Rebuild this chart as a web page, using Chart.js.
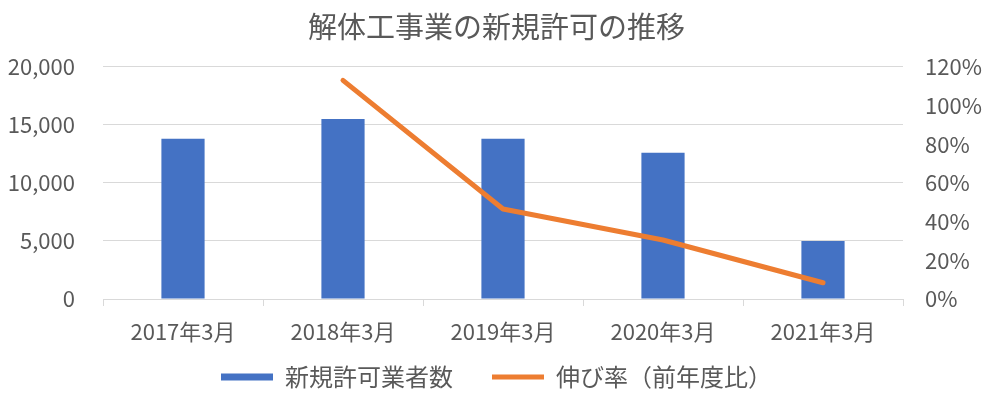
<!DOCTYPE html>
<html>
<head>
<meta charset="utf-8">
<script src="https://cdn.jsdelivr.net/npm/chart.js@4"></script>
<style>
  html, body { margin: 0; padding: 0; background: #fff; }
  #wrap { width: 985px; height: 395px; }
</style>
</head>
<body>
<div id="wrap"><canvas id="myChart"></canvas></div>
<script>
const categories = ['2017年3月', '2018年3月', '2019年3月', '2020年3月', '2021年3月'];
const newPermits = [13800, 15500, 13800, 12600, 5000];
const growthRate = [null, 113, 46.5, 30.5, 8.4];

const FONT = '"Noto Sans CJK JP", "Noto Sans", sans-serif';
const TEXT = '#595959';
const GRID = '#D9D9D9';

// legend sits closer to the axis labels than Chart.js would put it
const legendShift = {
    id: 'legendShift',
    beforeInit(chart) {
        const fit = chart.legend.fit;
        chart.legend.fit = function () {
            fit.call(this);
            this.height = 50;
        };
    },
    afterLayout(chart) {
        chart.legend.top -= 19;
    }
};

const ctx = document.getElementById('myChart');

const chart = new Chart(ctx, {
    data: {
        labels: categories,
        datasets: [
            {
                type: 'line',
                label: '伸び率（前年度比）',
                data: growthRate,
                yAxisID: 'y2',
                borderColor: '#ED7D31',
                backgroundColor: '#ED7D31',
                borderWidth: 5,
                pointRadius: 0,
                borderCapStyle: 'round',
                borderJoinStyle: 'round',
                order: 0
            },
            {
                type: 'bar',
                label: '新規許可業者数',
                data: newPermits,
                yAxisID: 'y',
                backgroundColor: '#4472C4',
                borderWidth: 0,
                barPercentage: 1,
                categoryPercentage: 0.27,
                order: 1
            }
        ]
    },
    plugins: [legendShift],
    options: {
        responsive: true,
        maintainAspectRatio: false,
        animation: false,
        layout: { padding: { left: 8, right: 0, top: 0, bottom: 0 } },
        plugins: {
            title: {
                display: true,
                text: '解体工事業の新規許可の推移',
                color: TEXT,
                font: { family: FONT, size: 29, weight: 'normal' },
                padding: { top: 10, bottom: 22 }
            },
            legend: {
                position: 'bottom',
                reverse: true,
                labels: {
                    color: TEXT,
                    font: { family: FONT, size: 24 },
                    usePointStyle: true,
                    pointStyleWidth: 52,
                    boxHeight: 7,
                    padding: 39,
                    generateLabels: (chart) => {
                        const items = Chart.defaults.plugins.legend.labels.generateLabels(chart);
                        items.forEach(it => {
                            const ds = chart.data.datasets[it.datasetIndex];
                            if (ds.type === 'line') {
                                it.pointStyle = 'line';
                                it.lineWidth = 5;
                                it.strokeStyle = '#ED7D31';
                            } else {
                                it.pointStyle = 'rect';
                                it.lineWidth = 0;
                                it.fillStyle = '#4472C4';
                            }
                        });
                        return items;
                    }
                }
            },
            tooltip: { enabled: false }
        },
        scales: {
            x: {
                grid: {
                    offset: true,
                    drawOnChartArea: false,
                    drawTicks: true,
                    tickLength: 7,
                    color: GRID
                },
                border: { display: true, color: GRID, width: 1 },
                ticks: {
                    color: TEXT,
                    font: { family: FONT, size: 22 },
                    padding: 12
                },
                afterFit: (scale) => { scale.height = 46; }
            },
            y: {
                position: 'left',
                min: 0,
                max: 20000,
                ticks: {
                    stepSize: 5000,
                    color: TEXT,
                    font: { family: FONT, size: 22 },
                    padding: 28,
                    callback: (v) => v.toLocaleString('en-US')
                },
                grid: { color: GRID, drawTicks: false },
                border: { display: false },
                afterFit: (scale) => { scale.width = 95; }
            },
            y2: {
                position: 'right',
                min: 0,
                max: 120,
                ticks: {
                    stepSize: 20,
                    color: TEXT,
                    font: { family: FONT, size: 22 },
                    padding: 22,
                    callback: (v) => v + '%'
                },
                grid: { drawOnChartArea: false, drawTicks: false },
                border: { display: false },
                afterFit: (scale) => { scale.width = 82; }
            }
        }
    }
});
</script>
</body>
</html>
